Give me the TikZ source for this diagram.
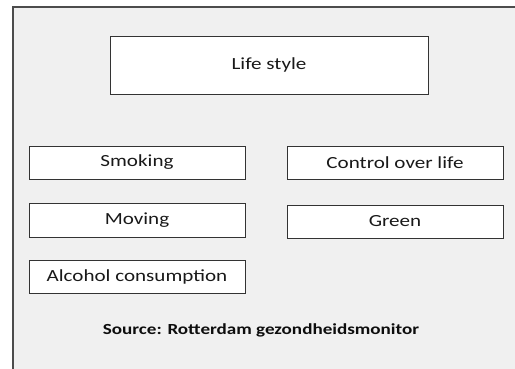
\documentclass[tikz,border=0pt]{standalone}
\usepackage{fontspec}
\setmainfont{Carlito}[FakeStretch=1.24]
\begin{document}
\begin{tikzpicture}[x=1pt,y=-1pt,
  every node/.style={inner sep=0pt},
  itembox/.style={draw=black!80,line width=1pt,fill=white,text=black!90,
    font=\fontsize{17}{20}\selectfont},
  frame/.style={draw=black!70,line width=1.3pt,fill=black!6}]
  \useasboundingbox (0,0) rectangle (515,368);
  \fill[white] (0,0) rectangle (515,368);
  \path[frame] (13,7) rectangle (530,380);
  % title box
  \node[itembox,minimum width=318pt,minimum height=58pt] (life) at (269,65) {Life style};
  % factor boxes
  \node[itembox,minimum width=216pt,minimum height=33pt] (smoke) at (137,162.5) {Smoking};
  \node[itembox,minimum width=216pt,minimum height=33pt] (control) at (395,162.5) {Control over life};
  \node[itembox,minimum width=216pt,minimum height=34pt] (move) at (137,220) {Moving};
  \node[itembox,minimum width=216pt,minimum height=33pt] (green) at (395,221.5) {Green};
  \node[itembox,minimum width=216pt,minimum height=33pt] (alcohol) at (137,276.5) {Alcohol consumption};
  % source line
  \node[font=\bfseries\fontsize{15.4}{18}\selectfont,text=black!95] (src) at (261,330) {Source: Rotterdam gezondheidsmonitor};
\end{tikzpicture}
\end{document}
